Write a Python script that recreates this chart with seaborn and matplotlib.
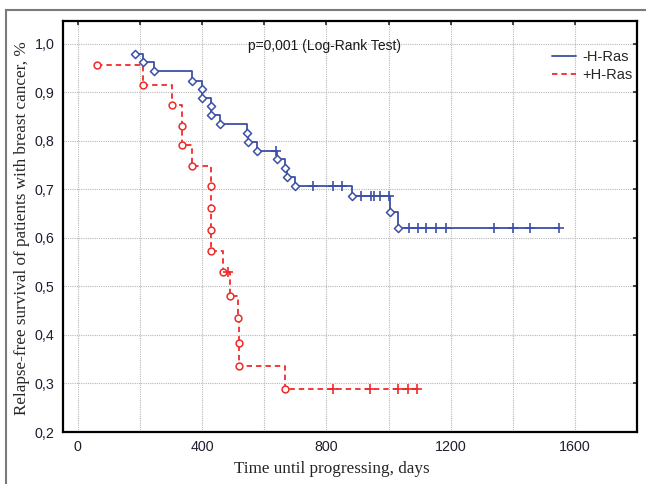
import matplotlib
matplotlib.use("Agg")
import matplotlib.pyplot as plt
from matplotlib.lines import Line2D
from matplotlib.patches import Rectangle
import seaborn as sns
import pandas as pd

# ---- data ----
neg_time = [184, 210, 246, 366, 398, 399, 427, 428, 457, 545, 548, 578, 639, 640, 668, 672, 700,
            758, 822, 849, 883, 913, 942, 952, 972, 1002, 1004, 1031,
            1066, 1094, 1122, 1153, 1185, 1339, 1402, 1457, 1550]
neg_surv = [0.979, 0.963, 0.943, 0.924, 0.907, 0.889, 0.871, 0.853, 0.834, 0.817, 0.798, 0.780, 0.780,
            0.762, 0.744, 0.725, 0.706,
            0.706, 0.706, 0.706, 0.687, 0.687, 0.687, 0.687, 0.687, 0.687, 0.654, 0.621,
            0.621, 0.621, 0.621, 0.621, 0.621, 0.621, 0.621, 0.621, 0.621]
neg_event = [1, 1, 1, 1, 1, 1, 1, 1, 1, 1, 1, 1, 0, 1, 1, 1, 1,
             0, 0, 0, 1, 0, 0, 0, 0, 0, 1, 1,
             0, 0, 0, 0, 0, 0, 0, 0, 0]

pos_time = [60, 210, 304, 334, 335, 366, 427, 428, 428, 429, 466, 484, 489, 516, 519, 520, 668,
            822, 940, 1031, 1063, 1092]
pos_surv = [0.957, 0.915, 0.874, 0.831, 0.791, 0.748, 0.706, 0.662, 0.617, 0.572, 0.529, 0.529,
            0.481, 0.434, 0.383, 0.337, 0.288,
            0.288, 0.288, 0.288, 0.288, 0.288]
pos_event = [1, 1, 1, 1, 1, 1, 1, 1, 1, 1, 1, 0, 1, 1, 1, 1, 1,
             0, 0, 0, 0, 0]

series_labels = ["-H-Ras", "+H-Ras"]
annotation = "p=0,001 (Log-Rank Test)"
x_ticks = [0, 200, 400, 600, 800, 1000, 1200, 1400, 1600, 1800]
x_tick_labels = ["0", "", "400", "", "800", "", "1200", "", "1600", ""]
y_ticks = [0.2, 0.3, 0.4, 0.5, 0.6, 0.7, 0.8, 0.9, 1.0]
y_tick_labels = ["0,2", "0,3", "0,4", "0,5", "0,6", "0,7", "0,8", "0,9", "1,0"]
x_label = "Time until progressing, days"
y_label = "Relapse-free survival of patients with breast cancer, %"

BLUE = "#3d4fa6"
RED = "#f02a2a"

sns.set_style("white")
plt.rcParams["font.family"] = ["Liberation Sans", "DejaVu Sans"]

fig = plt.figure(figsize=(6.46, 4.84), dpi=100)
ax = fig.add_axes([63 / 646, 1 - 432 / 484, 574 / 646, 411 / 484])

neg = pd.DataFrame({"t": neg_time, "s": neg_surv, "e": neg_event})
pos = pd.DataFrame({"t": pos_time, "s": pos_surv, "e": pos_event})

sns.lineplot(data=neg, x="t", y="s", estimator=None, sort=False, drawstyle="steps-post",
             color=BLUE, lw=1.3, ax=ax, zorder=3)
sns.lineplot(data=pos, x="t", y="s", estimator=None, sort=False, drawstyle="steps-post",
             color=RED, lw=1.3, linestyle=(0, (3, 2.2)), ax=ax, zorder=3)

sns.scatterplot(data=neg[neg.e == 1], x="t", y="s", marker="D", s=17, color="white",
                edgecolor=BLUE, linewidth=1.1, ax=ax, zorder=4)
sns.scatterplot(data=neg[neg.e == 0], x="t", y="s", marker="+", s=55, color=BLUE,
                linewidth=1.2, ax=ax, zorder=4)
sns.scatterplot(data=pos[pos.e == 1], x="t", y="s", marker="o", s=24, color="white",
                edgecolor=RED, linewidth=1.1, ax=ax, zorder=4)
sns.scatterplot(data=pos[pos.e == 0], x="t", y="s", marker="+", s=55, color=RED,
                linewidth=1.2, ax=ax, zorder=4)

ax.set_xlim(-48, 1800)
ax.set_ylim(0.2, 1.047)
ax.set_xticks(x_ticks)
ax.set_xticklabels(x_tick_labels)
ax.set_yticks(y_ticks)
ax.set_yticklabels(y_tick_labels)
ax.tick_params(direction="in", length=3, width=1.2, top=True, right=True,
               labelsize=10.3, labelcolor="#1e1e30", pad=6)
ax.grid(True, color="#b8b8b8", linestyle=(0, (1, 1)), linewidth=0.8)
ax.set_axisbelow(True)
for sp in ax.spines.values():
    sp.set_visible(True)
    sp.set_color("black")
    sp.set_linewidth(1.6)

ax.set_xlabel(x_label, family=["Liberation Serif", "DejaVu Serif"], fontsize=12.3)
ax.set_ylabel(y_label, family=["Liberation Serif", "DejaVu Serif"], fontsize=12.3)
ax.xaxis.set_label_coords((332 - 63) / 574, -(461 - 432) / 411)
ax.yaxis.set_label_coords((30 - 63) / 574, (432 - 228) / 411)

ax.text(547, 0.996, annotation, fontsize=10, ha="left", va="center", color="#1a1a1a")

handles = [Line2D([], [], color=BLUE, lw=1.3),
           Line2D([], [], color=RED, lw=1.3, linestyle=(0, (3, 2.2)))]
ax.legend(handles, series_labels, loc="upper left",
          bbox_to_anchor=((552 - 63) / 574, (432 - 50) / 411), frameon=False,
          borderpad=0, borderaxespad=0, handlelength=1.65, handletextpad=0.45,
          labelspacing=0.3, fontsize=10.5)

fig.add_artist(Rectangle((6 / 646, -0.1), 1.2, (1 - 10 / 484) + 0.1, transform=fig.transFigure,
                         fill=False, edgecolor="#7a7a7a", lw=1.5))

fig.savefig("out.png", dpi=100)
